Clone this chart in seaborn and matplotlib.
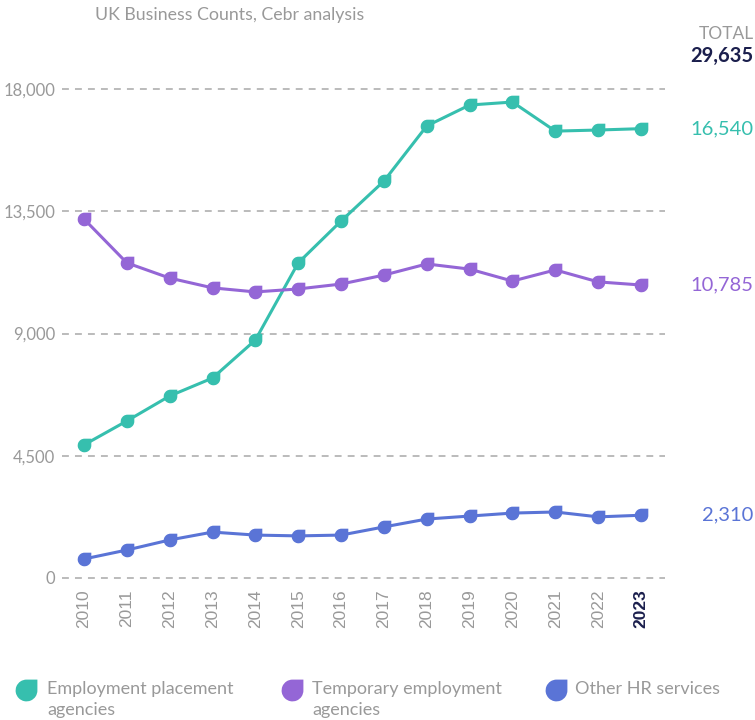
import matplotlib
matplotlib.use("Agg")
import matplotlib.pyplot as plt
import seaborn as sns
import numpy as np
import pandas as pd
from matplotlib.path import Path
from matplotlib.lines import Line2D
from matplotlib.transforms import blended_transform_factory

years = list(range(2010, 2024))
placement = [4900, 5780, 6700, 7360, 8760, 11600, 13140, 14610, 16640, 17410, 17520, 16450, 16490, 16540]
temporary = [13215, 11600, 11040, 10680, 10530, 10640, 10820, 11150, 11560, 11370, 10930, 11340, 10900, 10785]
other_hr = [700, 1030, 1400, 1690, 1580, 1550, 1580, 1880, 2170, 2280, 2390, 2430, 2250, 2310]
series_names = ["Employment placement\nagencies", "Temporary employment\nagencies", "Other HR services"]
series_colors = ["#36bfae", "#9466d6", "#5a74d6"]
y_ticks = [0, 4500, 9000, 13500, 18000]

GRAY = "#999999"
NAVY = "#1b1f4d"

# leaf-shaped marker: circle with a square top-right corner
arc = Path.arc(90, 360)
leaf = Path(list(arc.vertices) + [(1, 1), (0, 1)],
            list(arc.codes) + [Path.LINETO, Path.CLOSEPOLY])

sns.set_style("white")
plt.rcParams["font.family"] = ["Lato", "DejaVu Sans"]

fig = plt.figure(figsize=(7.55, 7.2), dpi=100)
ax = fig.add_axes([62 / 755, 1 - 578 / 720, (665 - 62) / 755, (578 - 89) / 720])

df = pd.DataFrame({"year": years, "placement": placement,
                   "temporary": temporary, "other": other_hr})
cols = ["placement", "temporary", "other"]
for col, color in zip(cols, series_colors):
    sns.lineplot(data=df, x="year", y=col, ax=ax, color=color, linewidth=2.2,
                 marker=leaf, markersize=10, markeredgewidth=0, clip_on=False, zorder=3)

ax.set_xlim(2009.487, 2023.56)
ax.set_ylim(0, 18000)
ax.set_yticks(y_ticks)
ax.set_yticklabels([f"{v:,}" for v in y_ticks], color=GRAY, fontsize=12)
ax.set_xticks(years)
ax.set_xticklabels([str(y) for y in years], rotation=90, fontsize=12.5,
                   family=["Liberation Sans", "DejaVu Sans"], color=GRAY, va="top")
last = ax.get_xticklabels()[-1]
last.set_color(NAVY)
last.set_fontweight("bold")
ax.tick_params(axis="both", length=0)
ax.tick_params(axis="y", pad=5)
ax.tick_params(axis="x", pad=8)
ax.set_xlabel("")
ax.set_ylabel("")
for v in y_ticks:
    ax.axhline(v, color="#a8a8a8", linewidth=1.1, linestyle=(0, (4.5, 4)), zorder=1,
               clip_on=False)
for s in ax.spines.values():
    s.set_visible(False)

# end-of-line values
trans = blended_transform_factory(fig.transFigure, ax.transData)
for vals, color in zip([placement, temporary, other_hr], series_colors):
    ax.text(0.998, vals[-1], f"{vals[-1]:,}", transform=trans, ha="right",
            va="center", color=color, fontsize=14.5)

total = placement[-1] + temporary[-1] + other_hr[-1]
fig.text(0.998, 1 - 34 / 720, "TOTAL", ha="right", va="center", color=GRAY, fontsize=12.5)
fig.text(0.998, 1 - 56 / 720, f"{total:,}", ha="right", va="center", color=NAVY,
         fontsize=14.5, fontweight="bold")

fig.text(95 / 755, 1 - 15 / 720, "UK Business Counts, Cebr analysis", ha="left",
         va="center", color=GRAY, fontsize=12.8)

# legend
legend_x = [(26, 47), (292, 312), (556, 575)]
for (mx, tx), name, color in zip(legend_x, series_names, series_colors):
    fig.add_artist(Line2D([mx / 755], [1 - 690 / 720], marker=leaf, markersize=16,
                          markeredgewidth=0, color=color, linestyle="none",
                          transform=fig.transFigure))
    fig.text(tx / 755, 1 - 681 / 720, name, ha="left", va="top", color=GRAY,
             fontsize=13, linespacing=1.4)

fig.savefig("out.png", dpi=100)
